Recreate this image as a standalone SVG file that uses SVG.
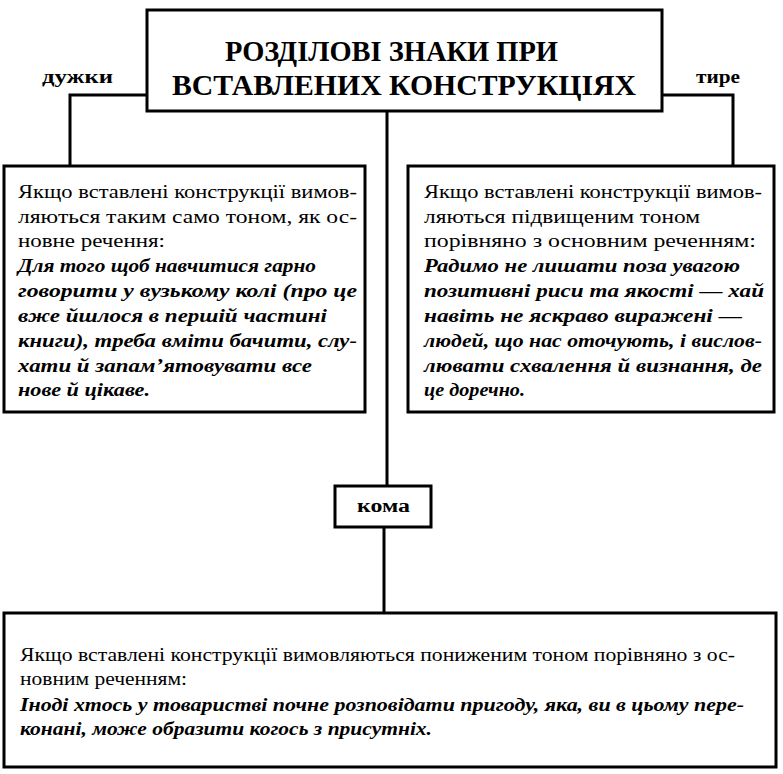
<svg xmlns="http://www.w3.org/2000/svg" width="783" height="774" viewBox="0 0 783 774">
<style>
.box{fill:#fff;stroke:#000;stroke-width:3}
.ln{fill:none;stroke:#000;stroke-width:3}
.t{font-family:"Liberation Serif","Times New Roman",serif;font-size:18px;fill:#000}
.i{font-family:"Liberation Serif","Times New Roman",serif;font-size:18px;font-style:italic;font-weight:bold;fill:#000}
.h{font-family:"Liberation Serif","Times New Roman",serif;font-size:29px;font-weight:bold;fill:#000}
.lb{font-family:"Liberation Serif","Times New Roman",serif;font-size:18px;font-weight:bold;fill:#000}
</style>
<rect width="783" height="774" fill="#fff"/>
<g id="connectors">
<polyline class="ln" points="147,95 70,95 70,166"/>
<polyline class="ln" points="662,95 733,95 733,166"/>
<line class="ln" x1="387" y1="111" x2="387" y2="486"/>
<line class="ln" x1="384" y1="527" x2="384" y2="613"/>
</g>
<g id="label-duzhky">
<text class="lb" x="42" y="83" textLength="71" lengthAdjust="spacingAndGlyphs">дужки</text>
</g>
<g id="label-tyre">
<text class="lb" x="696" y="83" textLength="44" lengthAdjust="spacingAndGlyphs">тире</text>
</g>
<g id="title">
<rect class="box" x="147" y="10" width="515" height="101"/>
<text class="h" transform="scale(1,1.05)"><tspan x="225" y="58.1" textLength="333" lengthAdjust="spacingAndGlyphs">РОЗДІЛОВІ ЗНАКИ ПРИ</tspan><tspan x="172" y="90.5" textLength="464" lengthAdjust="spacingAndGlyphs">ВСТАВЛЕНИХ КОНСТРУКЦІЯХ</tspan></text>
</g>
<g id="left">
<rect class="box" x="4" y="166" width="361" height="246"/>
<text class="t" x="18" y="198" textLength="339" lengthAdjust="spacingAndGlyphs">Якщо вставлені конструкції вимов-</text>
<text class="t" x="18" y="223" textLength="339" lengthAdjust="spacingAndGlyphs">ляються таким само тоном, як ос-</text>
<text class="t" x="18" y="247" textLength="147" lengthAdjust="spacingAndGlyphs">новне речення:</text>
<text class="i" x="18" y="272" textLength="298" lengthAdjust="spacingAndGlyphs">Для того щоб навчитися гарно</text>
<text class="i" x="18" y="297" textLength="339" lengthAdjust="spacingAndGlyphs">говорити у вузькому колі (про це</text>
<text class="i" x="18" y="322" textLength="309" lengthAdjust="spacingAndGlyphs">вже йшлося в першій частині</text>
<text class="i" x="18" y="347" textLength="339" lengthAdjust="spacingAndGlyphs">книги), треба вміти бачити, слу-</text>
<text class="i" x="18" y="372" textLength="294" lengthAdjust="spacingAndGlyphs">хати й запам’ятовувати все</text>
<text class="i" x="18" y="396" textLength="132" lengthAdjust="spacingAndGlyphs">нове й цікаве.</text>
</g>
<g id="right">
<rect class="box" x="408" y="166" width="366" height="246"/>
<text class="t" x="424" y="198" textLength="338" lengthAdjust="spacingAndGlyphs">Якщо вставлені конструкції вимов-</text>
<text class="t" x="424" y="223" textLength="276" lengthAdjust="spacingAndGlyphs">ляються підвищеним тоном</text>
<text class="t" x="424" y="247" textLength="332" lengthAdjust="spacingAndGlyphs">порівняно з основним реченням:</text>
<text class="i" x="424" y="272" textLength="316" lengthAdjust="spacingAndGlyphs">Радимо не лишати поза увагою</text>
<text class="i" x="424" y="297" textLength="340" lengthAdjust="spacingAndGlyphs">позитивні риси та якості — хай</text>
<text class="i" x="424" y="322" textLength="318" lengthAdjust="spacingAndGlyphs">навіть не яскраво виражені —</text>
<text class="i" x="424" y="347" textLength="338" lengthAdjust="spacingAndGlyphs">людей, що нас оточують, і вислов-</text>
<text class="i" x="424" y="372" textLength="338" lengthAdjust="spacingAndGlyphs">лювати схвалення й визнання, де</text>
<text class="i" x="424" y="396" textLength="101" lengthAdjust="spacingAndGlyphs">це доречно.</text>
</g>
<g id="koma">
<rect class="box" x="335" y="486" width="96" height="41"/>
<text class="lb" x="357" y="512" font-size="19" textLength="53" lengthAdjust="spacingAndGlyphs">кома</text>
</g>
<g id="bottom">
<rect class="box" x="4" y="613" width="772" height="154"/>
<text class="t" x="20" y="661" textLength="715" lengthAdjust="spacingAndGlyphs">Якщо вставлені конструкції вимовляються пониженим тоном порівняно з ос-</text>
<text class="t" x="20" y="685" textLength="167" lengthAdjust="spacingAndGlyphs">новним реченням:</text>
<text class="i" x="20" y="711" textLength="724" lengthAdjust="spacingAndGlyphs">Іноді хтось у товаристві почне розповідати пригоду, яка, ви в цьому пере-</text>
<text class="i" x="20" y="735" textLength="412" lengthAdjust="spacingAndGlyphs">конані, може образити когось з присутніх.</text>
</g>
</svg>
